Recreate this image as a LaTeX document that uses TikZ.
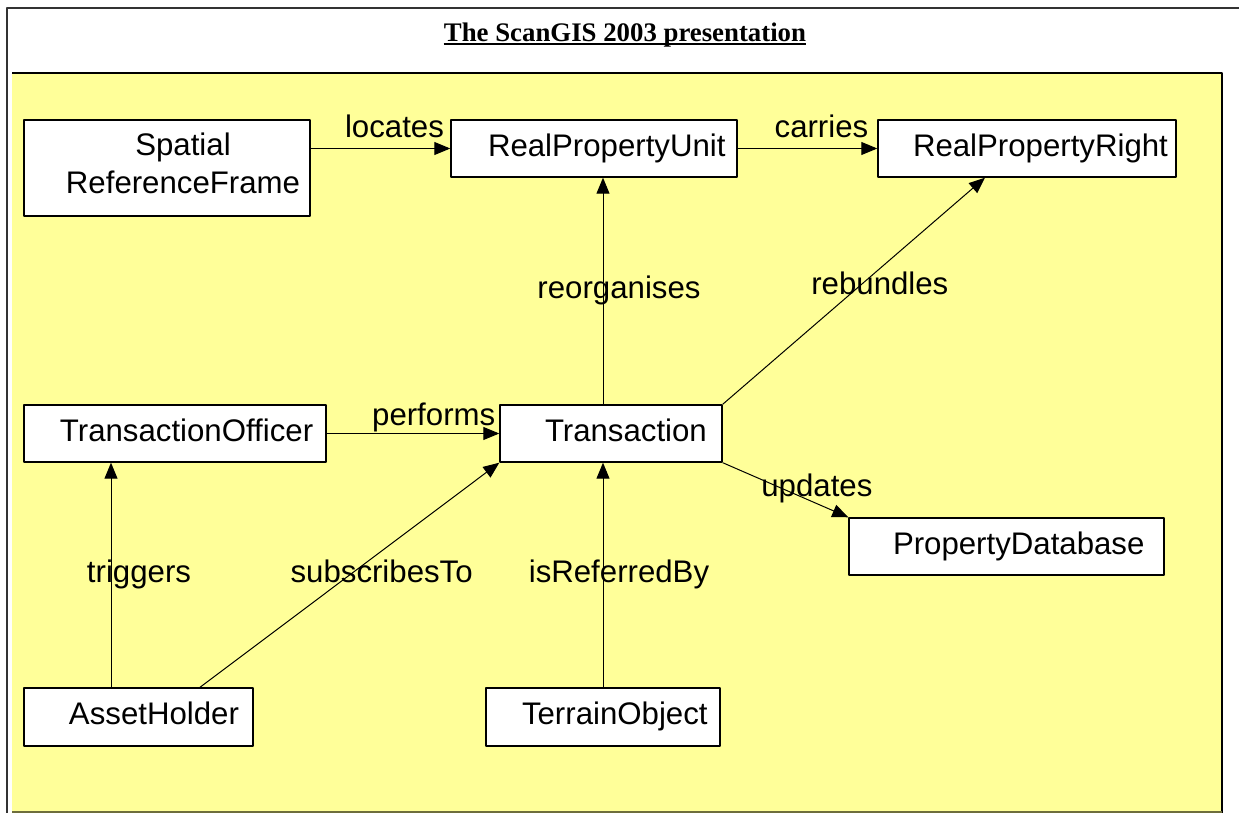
\documentclass[tikz,border=0pt]{standalone}
\usepackage{fontspec}
\setmainfont{Liberation Sans}
\newfontfamily\titlefont{Liberation Serif}
\usetikzlibrary{arrows.meta}
\definecolor{notepad}{HTML}{FFFF99}
\definecolor{olivedge}{RGB}{110,110,60}
\begin{document}
\begin{tikzpicture}[x=0.5pt,y=-0.5pt,>={Triangle[length=8pt,width=6.5pt]},line join=round,
    box/.style={draw,fill=white,line width=0.7pt,inner sep=0pt,align=left,minimum height=28.5pt,
        text height=11.2pt,text depth=3.3pt,font=\fontsize{15.6}{19}\selectfont},
    lab/.style={inner sep=0pt,text height=11.2pt,text depth=3.3pt,font=\fontsize{15.6}{19}\selectfont},
    conn/.style={->,line width=0.5pt}]
    \useasboundingbox (0,0) rectangle (1239,813);
    \fill[white] (0,0) rectangle (1239,813);
    \draw[line width=1pt,black!80] (1239,8)--(7,8)--(7,813);
    \fill[notepad] (12,73) rectangle (1222,813);
    \draw[line width=1pt] (12,73)--(1222,73)--(1222,813);
    \draw[line width=0.8pt,olivedge] (12,812)--(1222,812);
    \node[inner sep=0pt,anchor=base,font=\titlefont\bfseries\fontsize{13.4}{16}\selectfont] (title) at (625,42) {The ScanGIS 2003 presentation};
    \draw[line width=1pt] ([yshift=-1.2pt]title.base west)--([yshift=-1.2pt]title.base east);
    % classes
    \node[draw,fill=white,line width=0.7pt,inner sep=0pt,align=center,text width=143pt,minimum height=48pt,
        text height=11.2pt,text depth=24pt,font=\fontsize{15.6}{19}\selectfont] (srf) at (167,168)
        {\hspace*{16pt}Spatial\\\hspace*{16pt}ReferenceFrame};
    \node[box,text width=143pt] (rpu) at (594,148.5) {\hspace*{18.5pt}RealPropertyUnit};
    \node[box,text width=149pt] (rpr) at (1027,148.5) {\hspace*{17.5pt}RealPropertyRight};
    \node[box,text width=151pt] (tof) at (175,433.5) {\hspace*{18pt}TransactionOfficer};
    \node[box,text width=111pt] (trans) at (611,433.5) {\hspace*{22.5pt}Transaction};
    \node[box,text width=157.5pt] (pd) at (1006.5,546.5) {\hspace*{22pt}PropertyDatabase};
    \node[box,text width=114.5pt,minimum height=29pt] (ah) at (138.5,717) {\hspace*{22.5pt}AssetHolder};
    \node[box,text width=117pt,minimum height=29pt] (term) at (603,717) {\hspace*{18pt}TerrainObject};
    % associations
    \draw[conn] (srf.east|-rpu.west)--node[lab,pos=0.6,yshift=9.5pt] (locl) {locates} (rpu.west);
    \draw[conn] (rpu)--node[lab,pos=0.6,yshift=9.5pt] (carl) {carries} (rpr);
    \draw[conn] (trans.north-|term)--node[lab,pos=0.5,xshift=8pt] (reol) {reorganises} (rpu.south-|term);
    \draw[conn] (trans.north east)--node[lab,pos=0.5,xshift=13pt,yshift=2pt] (rebl) {rebundles} ([xshift=-21pt]rpr.south);
    \draw[conn] (tof)--node[lab,pos=0.62,yshift=7.75pt] (perl) {performs} (trans);
    \draw[conn] (trans.south east)--node[lab,pos=0.75,yshift=7.5pt] (updl) {updates} (pd.north west);
    \draw[conn] ([xshift=-13.75pt]ah.north)--node[lab,pos=0.5,xshift=14pt] (trgl) {triggers} ([xshift=-13.75pt]ah.north|-tof.south);
    \draw[conn] ([xshift=30.75pt]ah.north)--node[lab,pos=0.5,xshift=16pt] (subl) {subscribesTo} (trans.south west);
    \draw[conn] (term)--node[lab,pos=0.5,xshift=8pt] (isrl) {isReferredBy} (trans.south-|term);
\end{tikzpicture}
\end{document}
